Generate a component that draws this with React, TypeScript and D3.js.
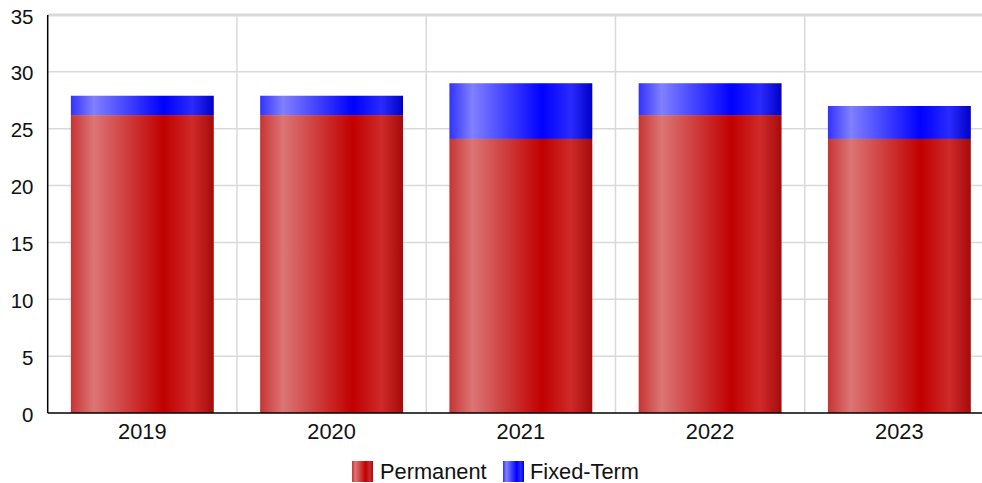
import React from "react";
import * as d3 from "d3";

const categories = ["2019", "2020", "2021", "2022", "2023"];
const permanent = [26.2, 26.2, 24.1, 26.2, 24.1];
const fixedTerm = [1.7, 1.7, 4.9, 2.8, 2.9];
const yTicks = [0, 5, 10, 15, 20, 25, 30, 35];
const seriesNames = ["Permanent", "Fixed-Term"];

const W = 982;
const H = 483;
const left = 47.7;
const right = 994;
const top = 15;
const bottom = 413;

export default function App() {
  const x = d3.scaleBand<string>().domain(categories).range([left, right]).paddingInner(0).paddingOuter(0);
  const y = d3.scaleLinear().domain([0, 35]).range([bottom, top]);
  const bw = x.bandwidth() * 0.755;
  const stacked = d3.stack<any>().keys(["p", "f"])(
    categories.map((c, i) => ({ c, p: permanent[i], f: fixedTerm[i] }))
  );
  const font = "'Liberation Sans', Arial, sans-serif";
  const fills = ["url(#gRed)", "url(#gBlue)"];
  return (
    <svg width={W} height={H} style={{ position: "absolute", left: 0, top: 0 }}>
      <defs>
        <linearGradient id="gRed" x1="0" x2="1" y1="0" y2="0">
          <stop offset="0" stopColor="#c73434" />
          <stop offset="0.16" stopColor="#dc7575" />
          <stop offset="0.65" stopColor="#c00000" />
          <stop offset="0.85" stopColor="#cf2a2a" />
          <stop offset="1" stopColor="#a60a0a" />
        </linearGradient>
        <linearGradient id="gBlue" x1="0" x2="1" y1="0" y2="0">
          <stop offset="0" stopColor="#3232ff" />
          <stop offset="0.16" stopColor="#8080ff" />
          <stop offset="0.65" stopColor="#0000ff" />
          <stop offset="0.85" stopColor="#2a2aff" />
          <stop offset="1" stopColor="#0000c8" />
        </linearGradient>
      </defs>
      <rect x={0} y={0} width={W} height={H} fill="#fff" />
      {yTicks.map((t) => (
        <g key={t}>
          {t > 0 && (
            <line x1={left} x2={W} y1={y(t)} y2={y(t)} stroke="#d9d9d9" strokeWidth={t === 35 ? 3 : 1.5} />
          )}
          <text x={33.5} y={y(t) + 8.5} textAnchor="end" fontFamily={font} fontSize={20.5} fill="#111">
            {t}
          </text>
        </g>
      ))}
      {categories.slice(1).map((c) => (
        <line key={c} x1={x(c)!} x2={x(c)!} y1={top} y2={bottom} stroke="#d9d9d9" strokeWidth={1.5} />
      ))}
      {stacked.map((s, si) =>
        s.map((d, i) => {
          const cx = x(categories[i])! + x.bandwidth() / 2;
          return (
            <rect
              key={si + "-" + i}
              x={cx - bw / 2}
              width={bw}
              y={y(d[1])}
              height={y(d[0]) - y(d[1])}
              fill={fills[si]}
            />
          );
        })
      )}
      <line x1={left} x2={left} y1={top} y2={bottom} stroke="#000" strokeWidth={1.5} />
      <line x1={left} x2={W} y1={bottom} y2={bottom} stroke="#000" strokeWidth={1.5} />
      {categories.map((c) => (
        <text
          key={c}
          x={x(c)! + x.bandwidth() / 2}
          y={439}
          textAnchor="middle"
          fontFamily={font}
          fontSize={21.8}
          fill="#111"
        >
          {c}
        </text>
      ))}
      <g>
        <rect x={352} y={461} width={21} height={21} fill={fills[0]} />
        <text x={380} y={479} fontFamily={font} fontSize={21.8} fill="#111">
          {seriesNames[0]}
        </text>
        <rect x={503} y={461} width={21} height={21} fill={fills[1]} />
        <text x={530} y={479} fontFamily={font} fontSize={21.8} fill="#111">
          {seriesNames[1]}
        </text>
      </g>
    </svg>
  );
}
